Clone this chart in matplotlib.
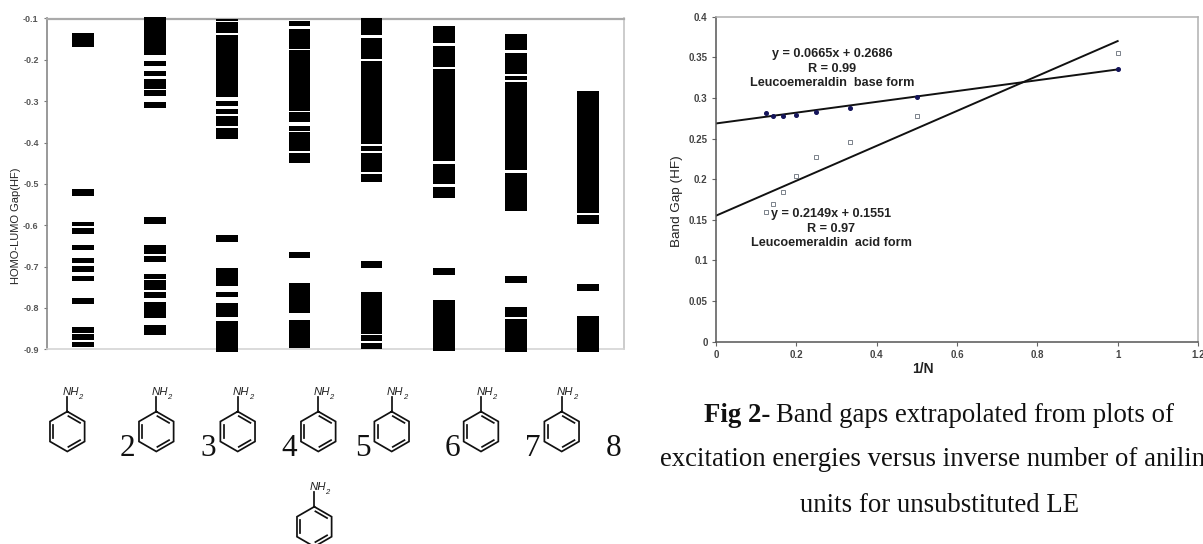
# plot.py
import numpy as np
import matplotlib
matplotlib.use("Agg")
import matplotlib.pyplot as plt

plt.rcParams["font.family"] = ["Liberation Sans", "DejaVu Sans"]

# left panel: occupied / virtual bands (top, bottom) in HF, one list per oligomer
col1_bands = [(-0.134, -0.170), (-0.512, -0.529), (-0.593, -0.603), (-0.606, -0.621),
              (-0.648, -0.661), (-0.680, -0.692), (-0.699, -0.712), (-0.722, -0.736),
              (-0.777, -0.791), (-0.847, -0.861), (-0.864, -0.878), (-0.882, -0.894)]
col2_bands = [(-0.096, -0.189), (-0.202, -0.215), (-0.227, -0.240), (-0.246, -0.270),
              (-0.274, -0.287), (-0.303, -0.316), (-0.581, -0.597), (-0.648, -0.670),
              (-0.674, -0.689), (-0.717, -0.729), (-0.733, -0.757), (-0.761, -0.776),
              (-0.785, -0.825), (-0.842, -0.865)]
col3_bands = [(-0.100, -0.105), (-0.108, -0.136), (-0.140, -0.289), (-0.299, -0.311),
              (-0.320, -0.332), (-0.336, -0.360), (-0.364, -0.391), (-0.624, -0.641),
              (-0.703, -0.748), (-0.761, -0.774), (-0.789, -0.822), (-0.832, -0.907)]
col4_bands = [(-0.106, -0.118), (-0.125, -0.174), (-0.177, -0.324), (-0.327, -0.350),
              (-0.360, -0.372), (-0.375, -0.420), (-0.425, -0.450), (-0.664, -0.680),
              (-0.740, -0.812), (-0.828, -0.897)]
col5_bands = [(-0.100, -0.140), (-0.147, -0.199), (-0.202, -0.404), (-0.408, -0.420),
              (-0.425, -0.471), (-0.475, -0.496), (-0.686, -0.703), (-0.761, -0.863),
              (-0.866, -0.881), (-0.885, -0.899)]
col6_bands = [(-0.119, -0.160), (-0.167, -0.217), (-0.221, -0.444), (-0.451, -0.500),
              (-0.507, -0.533), (-0.704, -0.721), (-0.780, -0.903)]
col7_bands = [(-0.137, -0.177), (-0.183, -0.234), (-0.240, -0.248), (-0.254, -0.466),
              (-0.474, -0.565), (-0.723, -0.740), (-0.798, -0.821), (-0.826, -0.907)]
col8_bands = [(-0.275, -0.570), (-0.576, -0.597), (-0.741, -0.758), (-0.819, -0.906)]
all_bands = [col1_bands, col2_bands, col3_bands, col4_bands,
             col5_bands, col6_bands, col7_bands, col8_bands]
left_yticks = [-0.1, -0.2, -0.3, -0.4, -0.5, -0.6, -0.7, -0.8, -0.9]

# right panel
inv_n = [1, 0.5, 0.3333, 0.25, 0.2, 0.1667, 0.1429, 0.125]
base_gap = [0.3356, 0.3008, 0.2872, 0.2823, 0.2794, 0.278, 0.278, 0.2814]
acid_gap = [0.3557, 0.2774, 0.2462, 0.2273, 0.2039, 0.1846, 0.1695, 0.1592]
fit_x = [0, 1]
base_fit = [0.2686, 0.3351]
acid_fit = [0.1551, 0.37]
right_xticks = [0, 0.2, 0.4, 0.6, 0.8, 1, 1.2]
right_xlabels = ["0", "0.2", "0.4", "0.6", "0.8", "1", "1.2"]
right_yticks = [0, 0.05, 0.1, 0.15, 0.2, 0.25, 0.3, 0.35, 0.4]
right_ylabels = ["0", "0.05", "0.1", "0.15", "0.2", "0.25", "0.3", "0.35", "0.4"]

W, H = 1203, 544


def px_axes(fig, left, top, right, bottom):
    return fig.add_axes([left / W, 1 - bottom / H, (right - left) / W, (bottom - top) / H])


def draw_aniline(ax, cx, cy, r=20.0):
    """Aniline drawn in pixel coordinates, ring centred on (cx, cy)."""
    ang = np.radians(np.arange(90, 450, 60))
    hx = cx + r * np.cos(ang)
    hy = cy - r * np.sin(ang)
    ax.plot(np.append(hx, hx[0]), np.append(hy, hy[0]), color="#111111", lw=1.25,
            solid_joinstyle="miter", clip_on=True)
    # inner double bonds
    for i in [5, 1, 3]:
        j = (i + 1) % 6
        x1 = cx + (hx[i] - cx) * 0.8
        y1 = cy + (hy[i] - cy) * 0.8
        x2 = cx + (hx[j] - cx) * 0.8
        y2 = cy + (hy[j] - cy) * 0.8
        ax.plot([x1 + (x2 - x1) * 0.08, x2 - (x2 - x1) * 0.08],
                [y1 + (y2 - y1) * 0.08, y2 - (y2 - y1) * 0.08], color="#111111", lw=1.25)
    ax.plot([cx, cx], [cy - r, cy - r - 15], color="#111111", lw=1.25)
    ax.text(cx + 3.5, cy - r - 19.5, "NH", fontsize=8.2, style="italic", color="#222222",
            ha="center", va="center")
    ax.text(cx + 13, cy - r - 14, "2", fontsize=5.5, style="italic", color="#222222",
            ha="center", va="center")


def left_panel(fig):
    ax = px_axes(fig, 47, 18.5, 624, 349.3)
    for i, bands in enumerate(all_bands):
        tops = np.array([b[0] for b in bands])
        bottoms = np.array([b[1] for b in bands])
        ax.bar(np.full(len(bands), i + 1), tops - bottoms, bottom=bottoms, width=0.3,
               color="black", linewidth=0, clip_on=False, zorder=3)
    ax.set_xlim(0.5, 8.5)
    ax.set_ylim(-0.9, -0.1)
    ax.set_xticks([])
    ax.set_yticks(left_yticks)
    ax.set_yticklabels(["%.1f" % v for v in left_yticks], fontsize=6.5, fontweight="bold",
                       color="#555555")
    ax.tick_params(axis="y", length=2.5, width=0.8, color="#777777", pad=3.5)
    for name, col, lw in [("top", "#aaaaaa", 1.6), ("right", "#c4c4c4", 1.2),
                          ("left", "#888888", 1.2), ("bottom", "#d4d4d4", 1.2)]:
        ax.spines[name].set_color(col)
        ax.spines[name].set_linewidth(lw)
    fig.text(16 / W, 1 - 226 / H, "HOMO-LUMO Gap(HF)", rotation=90, fontsize=8,
             color="#222222", ha="center", va="center")


def right_panel(fig):
    ax = px_axes(fig, 716, 16.7, 1198, 341.7)
    ax.plot(fit_x, base_fit, color="#111111", lw=1.4, zorder=2)
    ax.plot(fit_x, acid_fit, color="#111111", lw=1.4, zorder=2)
    ax.plot(inv_n, base_gap, ls="none", marker="o", ms=2.6, color="#14145a", zorder=3)
    ax.plot(inv_n, acid_gap, ls="none", marker="s", ms=3.2, mfc="none", mew=0.6,
            color="#666e78", zorder=3)
    ax.set_xlim(0, 1.2)
    ax.set_ylim(0, 0.4)
    ax.set_xticks(right_xticks)
    ax.set_xticklabels(right_xlabels, fontsize=7, fontweight="bold", color="#444444")
    ax.set_yticks(right_yticks)
    ax.set_yticklabels(right_ylabels, fontsize=7, fontweight="bold", color="#444444")
    ax.tick_params(axis="both", length=3, width=0.8, color="#666666", pad=3)
    ax.spines["top"].set_color("#b0b0b0")
    ax.spines["right"].set_color("#b0b0b0")
    ax.spines["left"].set_color("#555555")
    ax.spines["bottom"].set_color("#555555")
    for s in ax.spines.values():
        s.set_linewidth(1.1)

    fig.text(923 / W, 1 - 369 / H, "1/N", fontsize=10, fontweight="bold", color="#222222",
             ha="center", va="center")
    fig.text(677 / W, 1 - 201 / H, "Band Gap (HF)", rotation=90, fontsize=9.7,
             color="#222222", ha="center", va="center")

    kw = dict(fontsize=9.1, fontweight="bold", color="#222222", ha="center", va="center")
    fig.text(832 / W, 1 - 54 / H, "y = 0.0665x + 0.2686", **kw)
    fig.text(832 / W, 1 - 69 / H, "R = 0.99", **kw)
    fig.text(832 / W, 1 - 83 / H, "Leucoemeraldin  base form", **kw)
    fig.text(831 / W, 1 - 213.5 / H, "y = 0.2149x + 0.1551", **kw)
    fig.text(831 / W, 1 - 229 / H, "R = 0.97", **kw)
    fig.text(831 / W, 1 - 243 / H, "Leucoemeraldin  acid form", **kw)


def overlay(fig):
    ax = fig.add_axes([0, 0, 1, 1])
    ax.set_xlim(0, W)
    ax.set_ylim(H, 0)
    ax.axis("off")
    ax.patch.set_alpha(0)

    for cx in [67.3, 156.3, 237.7, 318.3, 391.7, 481, 561.7]:
        draw_aniline(ax, cx, 431.5)
    draw_aniline(ax, 314.3, 526.7)

    for x, s in zip([127, 208, 289, 363, 452, 533, 614], "2345678"):
        ax.text(x, 456, s, fontsize=22.5, family="Liberation Serif", color="#111111",
                ha="center", va="baseline")

    serif = dict(family="Liberation Serif", fontsize=19.25, color="#111111", va="baseline")
    ax.text(704, 421.7, "Fig 2-", fontweight="bold", ha="left", **serif)
    ax.text(776, 421.7, "Band gaps extrapolated from plots of", ha="left", **serif)
    ax.text(660, 465.7, "excitation energies versus inverse number of anilin", ha="left",
            clip_on=False, **serif)
    ax.text(800, 511.7, "units for unsubstituted LE", ha="left", **serif)


def main():
    fig = plt.figure(figsize=(W / 100, H / 100), dpi=100, facecolor="white")
    left_panel(fig)
    right_panel(fig)
    overlay(fig)
    fig.savefig("out.png", dpi=100)


if __name__ == "__main__":
    main()
